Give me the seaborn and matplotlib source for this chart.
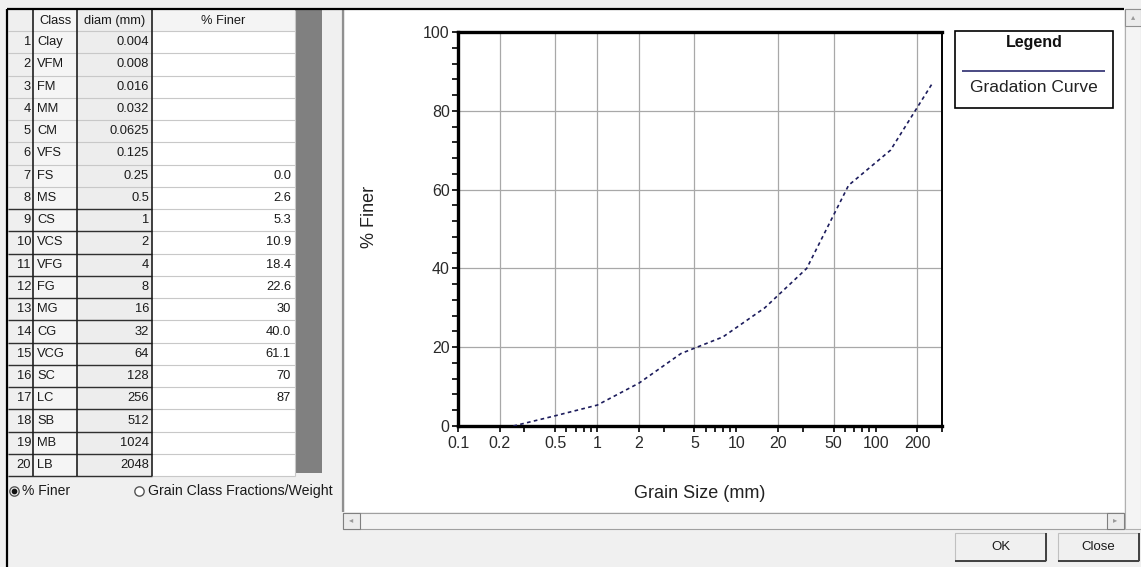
import matplotlib
matplotlib.use("Agg")
import matplotlib.pyplot as plt
import matplotlib.patches as mpatches
from matplotlib.ticker import FixedLocator, NullFormatter, FixedFormatter
import numpy as np
import pandas as pd
import seaborn as sns

# ---------------- data ----------------
grain_classes = ["Clay", "VFM", "FM", "MM", "CM", "VFS", "FS", "MS", "CS", "VCS",
                 "VFG", "FG", "MG", "CG", "VCG", "SC", "LC", "SB", "MB", "LB"]
diam_mm = [0.004, 0.008, 0.016, 0.032, 0.0625, 0.125, 0.25, 0.5, 1, 2,
           4, 8, 16, 32, 64, 128, 256, 512, 1024, 2048]
pct_finer_text = ["", "", "", "", "", "", "0.0", "2.6", "5.3", "10.9",
                  "18.4", "22.6", "30", "40.0", "61.1", "70", "87", "", "", ""]
table_header = ["Class", "diam (mm)", "% Finer"]
x_major_ticks = [0.1, 0.2, 0.5, 1, 2, 5, 10, 20, 50, 100, 200]
x_minor_ticks = [0.3, 0.6, 0.7, 0.8, 0.9, 3, 6, 7, 8, 9, 30, 60, 70, 80, 90, 300]
x_grid = [0.2, 0.5, 1, 2, 5, 20, 50, 200]
y_major_ticks = [0, 20, 40, 60, 80, 100]
y_minor_ticks = [4, 8, 12, 16, 24, 28, 32, 36, 44, 48, 52, 56, 64, 68, 72, 76,
                 84, 88, 92, 96]
y_grid = [20, 40, 60, 80]

pct_finer = [float(t) if t else np.nan for t in pct_finer_text]
df = pd.DataFrame({"diam": diam_mm, "pct": pct_finer}).dropna()

# ---------------- figure ----------------
sns.set_theme(style="white")
plt.rcParams["font.family"] = ["Liberation Sans", "DejaVu Sans"]

W, H = 1141, 567
fig = plt.figure(figsize=(W / 100, H / 100), dpi=100, facecolor="#f0f0f0")

ui = fig.add_axes([0, 0, 1, 1], zorder=0)
ui.set_xlim(0, W)
ui.set_ylim(H, 0)
ui.axis("off")
ui.patch.set_alpha(0)


def rect(x0, y0, x1, y1, fc, ec="none", lw=0, z=1):
    ui.add_patch(mpatches.Rectangle((x0, y0), x1 - x0, y1 - y0, facecolor=fc,
                                    edgecolor=ec, linewidth=lw, zorder=z))


def hline(y, x0, x1, c, lw, z=3):
    ui.plot([x0, x1], [y, y], color=c, lw=lw, zorder=z, solid_capstyle="butt")


def vline(x, y0, y1, c, lw, z=3):
    ui.plot([x, x], [y0, y1], color=c, lw=lw, zorder=z, solid_capstyle="butt")


# ---- left table panel ----
row_top = 31
row_h = 22.26
n_rows = len(grain_classes)
table_bottom = row_top + row_h * n_rows
rect(8, 10, 295, table_bottom, "white")
rect(8, 10, 33, table_bottom, "#efefef")
rect(33, 10, 77, table_bottom, "#f5f5f5")
rect(77, 10, 152, table_bottom, "#ededed")
rect(152, 10, 295, row_top, "#f4f4f4")
rect(295, 10, 322, table_bottom - 3, "#808080")
for i in range(n_rows + 1):
    y = row_top + row_h * i
    hline(y, 8, 295, "#c8c8c8", 0.8, z=2)
    if i >= 8:
        hline(y, 8, 152, "#303030", 1.0, z=3)
for x in (33, 77, 152):
    vline(x, 10, table_bottom, "#202020", 1.2)
vline(295, 10, table_bottom, "#c8c8c8", 0.8)

fs_tab = 9.3
tc = "#1a1a1a"
ui.text(55, 21, table_header[0], ha="center", va="center", fontsize=fs_tab, color=tc, zorder=4)
ui.text(115, 21, table_header[1], ha="center", va="center", fontsize=fs_tab, color=tc, zorder=4)
ui.text(223, 21, table_header[2], ha="center", va="center", fontsize=fs_tab, color=tc, zorder=4)
for i, (cls, d, p) in enumerate(zip(grain_classes, diam_mm, pct_finer_text)):
    yc = row_top + row_h * (i + 0.5)
    ui.text(31, yc, str(i + 1), ha="right", va="center", fontsize=fs_tab, color=tc, zorder=4)
    ui.text(37, yc, cls, ha="left", va="center", fontsize=fs_tab, color=tc, zorder=4)
    ui.text(149, yc, "{:g}".format(d), ha="right", va="center", fontsize=fs_tab, color=tc, zorder=4)
    if p:
        ui.text(291, yc, p, ha="right", va="center", fontsize=fs_tab, color=tc, zorder=4)

# radio buttons
ui.scatter([14], [491], s=45, facecolor="white", edgecolor="#555", lw=1, zorder=4)
ui.scatter([14], [491], s=10, color="#111", zorder=5)
ui.text(22, 491, "% Finer", ha="left", va="center", fontsize=10, color=tc, zorder=4)
ui.scatter([139], [491], s=45, facecolor="white", edgecolor="#555", lw=1, zorder=4)
ui.text(148, 491, "Grain Class Fractions/Weight", ha="left", va="center",
        fontsize=10.2, color=tc, zorder=4)

# frame lines
hline(9, 7, 1124, "black", 1.6, z=5)
vline(7, 9, H, "black", 1.6, z=5)

# ---- chart panel ----
rect(345, 10, 1124, 512, "white")
vline(343, 10, 512, "#909090", 1.6)
# horizontal scrollbar
rect(343, 513, 1124, 529, "#f4f4f4", ec="#a0a0a0", lw=0.8)
rect(343, 513, 360, 529, "#ececec", ec="#808080", lw=0.8, z=2)
rect(1107, 513, 1124, 529, "#ececec", ec="#808080", lw=0.8, z=2)
ui.text(351, 521, "◂", ha="center", va="center", fontsize=6, color="#999", zorder=4)
ui.text(1115, 521, "▸", ha="center", va="center", fontsize=6, color="#999", zorder=4)
# vertical scrollbar
rect(1125, 9, 1141, 529, "#f4f4f4", ec="#b0b0b0", lw=0.8)
rect(1125, 9, 1141, 26, "#ececec", ec="#909090", lw=0.8, z=2)
ui.text(1133, 18, "▴", ha="center", va="center", fontsize=6, color="#999", zorder=4)

# buttons
for (x0, x1, lab) in [(955, 1046, "OK"), (1058, 1139, "Close")]:
    rect(x0, 533, x1, 561, "#f0f0f0", ec="#c0c0c0", lw=0.8)
    hline(561, x0, x1, "#404040", 1.4)
    vline(x1, 533, 561, "#404040", 1.4)
    ui.text((x0 + x1) / 2, 547, lab, ha="center", va="center", fontsize=9.5,
            color=tc, zorder=4)

# legend box
rect(955, 31, 1113, 108, "white", ec="black", lw=1.2, z=3)
ui.text(1034, 42, "Legend", ha="center", va="center", fontsize=11.5,
        fontweight="bold", color="#111", zorder=4)
hline(71, 962, 1105, "#3c3c7a", 1.3, z=4)
ui.text(1034, 88, "Gradation Curve", ha="center", va="center", fontsize=12.5,
        color="#222", zorder=4)

# ---- chart axes ----
L, R, T, B = 458, 942, 32, 426
ax = fig.add_axes([L / W, 1 - B / H, (R - L) / W, (B - T) / H], zorder=2)
ax.set_facecolor("white")

for gx in x_grid:
    ax.axvline(gx, color="#a8a8a8", lw=0.9, zorder=0)
for gy in y_grid:
    ax.axhline(gy, color="#a8a8a8", lw=0.9, zorder=0)

sns.lineplot(data=df, x="diam", y="pct", ax=ax, color="#1c1c5c", lw=1.2,
             linestyle=(0, (2.2, 2.0)), legend=False, zorder=3)

ax.set_xscale("log")
ax.set_xlim(0.1, 300)
ax.set_ylim(0, 100)
ax.xaxis.set_major_locator(FixedLocator(x_major_ticks))
ax.xaxis.set_major_formatter(FixedFormatter(["{:g}".format(v) for v in x_major_ticks]))
ax.xaxis.set_minor_locator(FixedLocator(x_minor_ticks))
ax.xaxis.set_minor_formatter(NullFormatter())
ax.yaxis.set_major_locator(FixedLocator(y_major_ticks))
ax.yaxis.set_minor_locator(FixedLocator(y_minor_ticks))
ax.yaxis.set_minor_formatter(NullFormatter())

ax.tick_params(axis="both", which="both", direction="out", color="black",
               width=1.2, length=4.5, labelsize=11.5, labelcolor="#2a2a2a")
ax.tick_params(axis="x", which="both", bottom=True, pad=3)
ax.tick_params(axis="y", which="both", left=True, pad=1.5)

for side in ("left", "bottom", "top"):
    ax.spines[side].set_color("black")
    ax.spines[side].set_linewidth(2.4)
ax.spines["right"].set_color("black")
ax.spines["right"].set_linewidth(1.4)
for s in ax.spines.values():
    s.set_visible(True)

ax.set_xlabel("Grain Size (mm)", fontsize=13, color="#222")
ax.set_ylabel("% Finer", fontsize=13, color="#222")
ax.xaxis.set_label_coords(0.5, -0.15)
ax.yaxis.set_label_coords(-0.165, 0.53)

fig.savefig("out.png", dpi=100, facecolor=fig.get_facecolor())
